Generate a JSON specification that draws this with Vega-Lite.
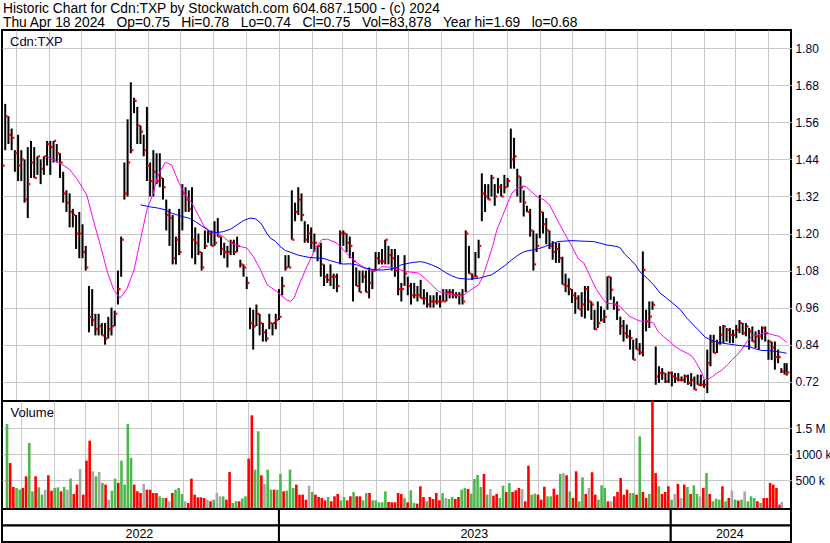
{
  "$schema": "https://vega.github.io/schema/vega-lite/v6.json",
  "padding": 0,
  "spacing": 0,
  "bounds": "flush",
  "background": "white",
  "config": {
    "font": "Liberation Sans",
    "view": {"stroke": "black", "strokeWidth": 2},
    "axis": {"title": null, "ticks": false, "domain": false, "labelFont": "Liberation Sans", "labelFontSize": 12, "labelColor": "#000033", "gridColor": "#C8C8C8", "gridOpacity": 1, "gridWidth": 1, "labelPadding": 4, "labelOverlap": false},
    "title": {"font": "Liberation Sans", "fontSize": 13, "fontWeight": "normal", "anchor": "start", "color": "#000033", "frame": "group"}
  },
  "datasets": {
    "bars": [
      {"d":"2022-04-18","h":1.68,"l":1.41,"c":1.42,"vk":1583,"k":"u"},
      {"d":"2022-04-21","h":1.62,"l":1.47,"c":1.58,"vk":833,"k":"d"},
      {"d":"2022-04-24","h":1.58,"l":1.49,"c":1.52,"vk":372,"k":"d"},
      {"d":"2022-04-27","h":1.54,"l":1.47,"c":1.51,"vk":353,"k":"u"},
      {"d":"2022-04-30","h":1.47,"l":1.40,"c":1.46,"vk":321,"k":"u"},
      {"d":"2022-05-03","h":1.52,"l":1.37,"c":1.42,"vk":353,"k":"d"},
      {"d":"2022-05-06","h":1.47,"l":1.37,"c":1.44,"vk":577,"k":"d"},
      {"d":"2022-05-09","h":1.44,"l":1.30,"c":1.31,"vk":1218,"k":"u"},
      {"d":"2022-05-12","h":1.48,"l":1.25,"c":1.36,"vk":288,"k":"u"},
      {"d":"2022-05-15","h":1.50,"l":1.38,"c":1.43,"vk":577,"k":"d"},
      {"d":"2022-05-18","h":1.48,"l":1.38,"c":1.38,"vk":365,"k":"u"},
      {"d":"2022-05-21","h":1.45,"l":1.39,"c":1.45,"vk":224,"k":"u"},
      {"d":"2022-05-24","h":1.44,"l":1.36,"c":1.41,"vk":320,"k":"n"},
      {"d":"2022-05-27","h":1.45,"l":1.39,"c":1.45,"vk":596,"k":"d"},
      {"d":"2022-05-30","h":1.50,"l":1.42,"c":1.49,"vk":300,"k":"d"},
      {"d":"2022-06-02","h":1.50,"l":1.39,"c":1.48,"vk":353,"k":"u"},
      {"d":"2022-06-05","h":1.50,"l":1.43,"c":1.50,"vk":365,"k":"u"},
      {"d":"2022-06-08","h":1.49,"l":1.43,"c":1.46,"vk":288,"k":"d"},
      {"d":"2022-06-11","h":1.46,"l":1.38,"c":1.43,"vk":372,"k":"u"},
      {"d":"2022-06-14","h":1.40,"l":1.30,"c":1.33,"vk":320,"k":"n"},
      {"d":"2022-06-17","h":1.34,"l":1.27,"c":1.30,"vk":532,"k":"u"},
      {"d":"2022-06-20","h":1.33,"l":1.22,"c":1.27,"vk":237,"k":"d"},
      {"d":"2022-06-23","h":1.28,"l":1.22,"c":1.26,"vk":417,"k":"d"},
      {"d":"2022-06-26","h":1.26,"l":1.15,"c":1.20,"vk":718,"k":"n"},
      {"d":"2022-06-29","h":1.27,"l":1.12,"c":1.20,"vk":224,"k":"d"},
      {"d":"2022-07-02","h":1.23,"l":1.12,"c":1.14,"vk":878,"k":"d"},
      {"d":"2022-07-05","h":1.16,"l":1.08,"c":1.09,"vk":1263,"k":"d"},
      {"d":"2022-07-08","h":1.03,"l":0.88,"c":0.93,"vk":673,"k":"n"},
      {"d":"2022-07-11","h":1.02,"l":0.90,"c":0.92,"vk":577,"k":"u"},
      {"d":"2022-07-14","h":0.94,"l":0.87,"c":0.89,"vk":660,"k":"n"},
      {"d":"2022-07-17","h":0.94,"l":0.87,"c":0.90,"vk":449,"k":"u"},
      {"d":"2022-07-20","h":0.91,"l":0.87,"c":0.87,"vk":417,"k":"d"},
      {"d":"2022-07-23","h":0.91,"l":0.84,"c":0.86,"vk":128,"k":"n"},
      {"d":"2022-07-26","h":0.93,"l":0.86,"c":0.89,"vk":301,"k":"u"},
      {"d":"2022-07-29","h":0.96,"l":0.87,"c":0.90,"vk":532,"k":"u"},
      {"d":"2022-08-01","h":0.95,"l":0.90,"c":0.94,"vk":449,"k":"d"},
      {"d":"2022-08-04","h":1.08,"l":0.97,"c":1.02,"vk":878,"k":"u"},
      {"d":"2022-08-07","h":1.19,"l":1.06,"c":1.18,"vk":417,"k":"u"},
      {"d":"2022-08-10","h":1.43,"l":1.31,"c":1.33,"vk":1583,"k":"u"},
      {"d":"2022-08-13","h":1.57,"l":1.32,"c":1.43,"vk":929,"k":"u"},
      {"d":"2022-08-16","h":1.69,"l":1.46,"c":1.47,"vk":417,"k":"d"},
      {"d":"2022-08-19","h":1.64,"l":1.59,"c":1.63,"vk":288,"k":"d"},
      {"d":"2022-08-22","h":1.61,"l":1.49,"c":1.55,"vk":256,"k":"d"},
      {"d":"2022-08-25","h":1.55,"l":1.49,"c":1.53,"vk":430,"k":"n"},
      {"d":"2022-08-28","h":1.52,"l":1.45,"c":1.47,"vk":320,"k":"d"},
      {"d":"2022-08-31","h":1.61,"l":1.37,"c":1.42,"vk":320,"k":"d"},
      {"d":"2022-09-03","h":1.43,"l":1.32,"c":1.37,"vk":256,"k":"d"},
      {"d":"2022-09-06","h":1.47,"l":1.32,"c":1.40,"vk":256,"k":"d"},
      {"d":"2022-09-09","h":1.46,"l":1.36,"c":1.37,"vk":192,"k":"u"},
      {"d":"2022-09-12","h":1.46,"l":1.35,"c":1.38,"vk":160,"k":"u"},
      {"d":"2022-09-15","h":1.38,"l":1.31,"c":1.35,"vk":160,"k":"d"},
      {"d":"2022-09-18","h":1.31,"l":1.21,"c":1.26,"vk":96,"k":"n"},
      {"d":"2022-09-21","h":1.28,"l":1.16,"c":1.25,"vk":256,"k":"d"},
      {"d":"2022-09-24","h":1.26,"l":1.10,"c":1.12,"vk":320,"k":"u"},
      {"d":"2022-09-27","h":1.19,"l":1.10,"c":1.18,"vk":353,"k":"u"},
      {"d":"2022-09-30","h":1.28,"l":1.13,"c":1.14,"vk":237,"k":"u"},
      {"d":"2022-10-03","h":1.36,"l":1.21,"c":1.33,"vk":96,"k":"n"},
      {"d":"2022-10-06","h":1.35,"l":1.27,"c":1.31,"vk":64,"k":"d"},
      {"d":"2022-10-09","h":1.34,"l":1.27,"c":1.28,"vk":532,"k":"d"},
      {"d":"2022-10-12","h":1.35,"l":1.12,"c":1.18,"vk":224,"k":"d"},
      {"d":"2022-10-15","h":1.22,"l":1.10,"c":1.17,"vk":173,"k":"d"},
      {"d":"2022-10-18","h":1.20,"l":1.13,"c":1.14,"vk":173,"k":"d"},
      {"d":"2022-10-21","h":1.14,"l":1.08,"c":1.09,"vk":160,"k":"d"},
      {"d":"2022-10-24","h":1.21,"l":1.15,"c":1.16,"vk":128,"k":"n"},
      {"d":"2022-10-27","h":1.21,"l":1.17,"c":1.20,"vk":96,"k":"d"},
      {"d":"2022-10-30","h":1.21,"l":1.16,"c":1.16,"vk":128,"k":"u"},
      {"d":"2022-11-02","h":1.24,"l":1.16,"c":1.17,"vk":256,"k":"n"},
      {"d":"2022-11-05","h":1.25,"l":1.19,"c":1.19,"vk":192,"k":"n"},
      {"d":"2022-11-08","h":1.19,"l":1.13,"c":1.15,"vk":192,"k":"u"},
      {"d":"2022-11-11","h":1.17,"l":1.12,"c":1.14,"vk":128,"k":"d"},
      {"d":"2022-11-14","h":1.16,"l":1.09,"c":1.14,"vk":660,"k":"d"},
      {"d":"2022-11-17","h":1.18,"l":1.13,"c":1.17,"vk":64,"k":"u"},
      {"d":"2022-11-20","h":1.18,"l":1.13,"c":1.14,"vk":96,"k":"u"},
      {"d":"2022-11-23","h":1.19,"l":1.14,"c":1.16,"vk":96,"k":"d"},
      {"d":"2022-11-26","h":1.115,"l":1.09,"c":1.10,"vk":150,"k":"u"},
      {"d":"2022-11-29","h":1.10,"l":1.06,"c":1.09,"vk":192,"k":"u"},
      {"d":"2022-12-02","h":1.06,"l":1.02,"c":1.04,"vk":917,"k":"d"},
      {"d":"2022-12-05","h":0.96,"l":0.89,"c":0.91,"vk":1750,"k":"d"},
      {"d":"2022-12-08","h":0.953,"l":0.824,"c":0.899,"vk":705,"k":"u"},
      {"d":"2022-12-11","h":0.97,"l":0.90,"c":0.94,"vk":1442,"k":"u"},
      {"d":"2022-12-14","h":0.94,"l":0.87,"c":0.91,"vk":596,"k":"d"},
      {"d":"2022-12-17","h":0.91,"l":0.85,"c":0.88,"vk":430,"k":"n"},
      {"d":"2022-12-20","h":0.89,"l":0.85,"c":0.86,"vk":705,"k":"u"},
      {"d":"2022-12-23","h":0.94,"l":0.89,"c":0.91,"vk":320,"k":"u"},
      {"d":"2022-12-26","h":0.91,"l":0.87,"c":0.91,"vk":320,"k":"d"},
      {"d":"2022-12-29","h":0.94,"l":0.89,"c":0.92,"vk":320,"k":"u"},
      {"d":"2023-01-01","h":1.02,"l":0.92,"c":0.93,"vk":622,"k":"u"},
      {"d":"2023-01-04","h":1.06,"l":1.00,"c":1.03,"vk":288,"k":"d"},
      {"d":"2023-01-07","h":1.13,"l":1.08,"c":1.09,"vk":301,"k":"u"},
      {"d":"2023-01-10","h":1.13,"l":1.09,"c":1.09,"vk":705,"k":"u"},
      {"d":"2023-01-13","h":1.34,"l":1.18,"c":1.18,"vk":353,"k":"u"},
      {"d":"2023-01-16","h":1.30,"l":1.24,"c":1.27,"vk":417,"k":"d"},
      {"d":"2023-01-19","h":1.35,"l":1.26,"c":1.31,"vk":224,"k":"d"},
      {"d":"2023-01-22","h":1.33,"l":1.24,"c":1.26,"vk":224,"k":"d"},
      {"d":"2023-01-25","h":1.24,"l":1.17,"c":1.18,"vk":128,"k":"d"},
      {"d":"2023-01-28","h":1.23,"l":1.17,"c":1.20,"vk":397,"k":"n"},
      {"d":"2023-01-31","h":1.22,"l":1.15,"c":1.17,"vk":276,"k":"u"},
      {"d":"2023-02-03","h":1.20,"l":1.14,"c":1.17,"vk":224,"k":"d"},
      {"d":"2023-02-06","h":1.16,"l":1.11,"c":1.16,"vk":179,"k":"d"},
      {"d":"2023-02-09","h":1.17,"l":1.06,"c":1.10,"vk":160,"k":"d"},
      {"d":"2023-02-12","h":1.10,"l":1.03,"c":1.06,"vk":115,"k":"d"},
      {"d":"2023-02-15","h":1.07,"l":1.04,"c":1.05,"vk":179,"k":"u"},
      {"d":"2023-02-18","h":1.10,"l":1.03,"c":1.06,"vk":96,"k":"d"},
      {"d":"2023-02-21","h":1.07,"l":1.02,"c":1.06,"vk":192,"k":"d"},
      {"d":"2023-02-24","h":1.07,"l":1.01,"c":1.03,"vk":237,"k":"d"},
      {"d":"2023-02-27","h":1.21,"l":1.10,"c":1.20,"vk":115,"k":"u"},
      {"d":"2023-03-02","h":1.21,"l":1.16,"c":1.20,"vk":179,"k":"u"},
      {"d":"2023-03-05","h":1.20,"l":1.14,"c":1.17,"vk":115,"k":"d"},
      {"d":"2023-03-08","h":1.19,"l":1.12,"c":1.16,"vk":192,"k":"d"},
      {"d":"2023-03-11","h":1.14,"l":0.98,"c":1.11,"vk":276,"k":"u"},
      {"d":"2023-03-14","h":1.09,"l":1.03,"c":1.03,"vk":192,"k":"d"},
      {"d":"2023-03-17","h":1.08,"l":1.01,"c":1.01,"vk":192,"k":"d"},
      {"d":"2023-03-20","h":1.08,"l":1.04,"c":1.06,"vk":115,"k":"u"},
      {"d":"2023-03-23","h":1.08,"l":1.01,"c":1.01,"vk":256,"k":"u"},
      {"d":"2023-03-26","h":1.09,"l":0.99,"c":1.04,"vk":256,"k":"d"},
      {"d":"2023-03-29","h":1.08,"l":1.02,"c":1.08,"vk":115,"k":"u"},
      {"d":"2023-04-01","h":1.14,"l":1.08,"c":1.12,"vk":115,"k":"u"},
      {"d":"2023-04-04","h":1.14,"l":1.10,"c":1.11,"vk":77,"k":"u"},
      {"d":"2023-04-07","h":1.15,"l":1.10,"c":1.11,"vk":77,"k":"u"},
      {"d":"2023-04-10","h":1.18,"l":1.10,"c":1.18,"vk":288,"k":"u"},
      {"d":"2023-04-13","h":1.16,"l":1.10,"c":1.13,"vk":83,"k":"d"},
      {"d":"2023-04-16","h":1.15,"l":1.08,"c":1.12,"vk":77,"k":"d"},
      {"d":"2023-04-19","h":1.15,"l":1.06,"c":1.08,"vk":77,"k":"d"},
      {"d":"2023-04-22","h":1.13,"l":1.00,"c":1.02,"vk":256,"k":"d"},
      {"d":"2023-04-25","h":1.04,"l":0.98,"c":1.02,"vk":237,"k":"d"},
      {"d":"2023-04-28","h":1.13,"l":1.03,"c":1.07,"vk":160,"k":"u"},
      {"d":"2023-05-01","h":1.06,"l":1.00,"c":1.03,"vk":77,"k":"d"},
      {"d":"2023-05-04","h":1.04,"l":0.97,"c":1.00,"vk":308,"k":"u"},
      {"d":"2023-05-07","h":1.04,"l":0.99,"c":1.00,"vk":64,"k":"u"},
      {"d":"2023-05-10","h":1.03,"l":0.98,"c":1.00,"vk":51,"k":"d"},
      {"d":"2023-05-13","h":1.05,"l":0.99,"c":0.99,"vk":385,"k":"d"},
      {"d":"2023-05-16","h":1.02,"l":0.97,"c":0.99,"vk":179,"k":"d"},
      {"d":"2023-05-19","h":1.01,"l":0.96,"c":0.97,"vk":96,"k":"u"},
      {"d":"2023-05-22","h":1.00,"l":0.96,"c":0.98,"vk":179,"k":"d"},
      {"d":"2023-05-25","h":1.00,"l":0.96,"c":0.98,"vk":141,"k":"d"},
      {"d":"2023-05-28","h":1.01,"l":0.97,"c":0.98,"vk":256,"k":"d"},
      {"d":"2023-05-31","h":1.00,"l":0.96,"c":0.98,"vk":115,"k":"d"},
      {"d":"2023-06-03","h":1.02,"l":0.98,"c":0.98,"vk":256,"k":"u"},
      {"d":"2023-06-06","h":1.02,"l":0.98,"c":1.01,"vk":160,"k":"n"},
      {"d":"2023-06-09","h":1.02,"l":0.99,"c":1.01,"vk":141,"k":"u"},
      {"d":"2023-06-12","h":1.02,"l":0.99,"c":1.00,"vk":179,"k":"u"},
      {"d":"2023-06-15","h":1.01,"l":0.99,"c":1.00,"vk":141,"k":"d"},
      {"d":"2023-06-18","h":1.01,"l":0.97,"c":1.00,"vk":179,"k":"d"},
      {"d":"2023-06-21","h":1.02,"l":0.97,"c":0.98,"vk":320,"k":"u"},
      {"d":"2023-06-24","h":1.21,"l":1.01,"c":1.20,"vk":353,"k":"u"},
      {"d":"2023-06-27","h":1.16,"l":1.07,"c":1.07,"vk":333,"k":"d"},
      {"d":"2023-06-30","h":1.07,"l":1.05,"c":1.06,"vk":244,"k":"u"},
      {"d":"2023-07-03","h":1.14,"l":1.06,"c":1.06,"vk":526,"k":"u"},
      {"d":"2023-07-06","h":1.18,"l":1.12,"c":1.16,"vk":603,"k":"u"},
      {"d":"2023-07-09","h":1.395,"l":1.24,"c":1.33,"vk":372,"k":"u"},
      {"d":"2023-07-12","h":1.36,"l":1.27,"c":1.32,"vk":622,"k":"d"},
      {"d":"2023-07-15","h":1.36,"l":1.31,"c":1.31,"vk":224,"k":"u"},
      {"d":"2023-07-18","h":1.39,"l":1.32,"c":1.38,"vk":333,"k":"n"},
      {"d":"2023-07-21","h":1.36,"l":1.29,"c":1.32,"vk":205,"k":"d"},
      {"d":"2023-07-24","h":1.38,"l":1.33,"c":1.35,"vk":237,"k":"d"},
      {"d":"2023-07-27","h":1.36,"l":1.32,"c":1.32,"vk":160,"k":"u"},
      {"d":"2023-07-30","h":1.39,"l":1.33,"c":1.35,"vk":397,"k":"u"},
      {"d":"2023-08-02","h":1.38,"l":1.35,"c":1.37,"vk":276,"k":"d"},
      {"d":"2023-08-05","h":1.54,"l":1.41,"c":1.44,"vk":449,"k":"u"},
      {"d":"2023-08-08","h":1.51,"l":1.41,"c":1.45,"vk":276,"k":"d"},
      {"d":"2023-08-11","h":1.41,"l":1.32,"c":1.385,"vk":308,"k":"d"},
      {"d":"2023-08-14","h":1.385,"l":1.30,"c":1.35,"vk":353,"k":"d"},
      {"d":"2023-08-17","h":1.34,"l":1.255,"c":1.30,"vk":333,"k":"n"},
      {"d":"2023-08-20","h":1.29,"l":1.27,"c":1.27,"vk":96,"k":"d"},
      {"d":"2023-08-23","h":1.28,"l":1.19,"c":1.21,"vk":782,"k":"d"},
      {"d":"2023-08-26","h":1.21,"l":1.08,"c":1.10,"vk":224,"k":"u"},
      {"d":"2023-08-29","h":1.20,"l":1.14,"c":1.16,"vk":244,"k":"u"},
      {"d":"2023-09-01","h":1.325,"l":1.185,"c":1.27,"vk":224,"k":"d"},
      {"d":"2023-09-04","h":1.27,"l":1.20,"c":1.23,"vk":128,"k":"d"},
      {"d":"2023-09-07","h":1.25,"l":1.165,"c":1.21,"vk":378,"k":"d"},
      {"d":"2023-09-10","h":1.21,"l":1.15,"c":1.16,"vk":192,"k":"u"},
      {"d":"2023-09-13","h":1.175,"l":1.115,"c":1.14,"vk":192,"k":"u"},
      {"d":"2023-09-16","h":1.17,"l":1.105,"c":1.15,"vk":340,"k":"d"},
      {"d":"2023-09-19","h":1.17,"l":1.105,"c":1.12,"vk":224,"k":"d"},
      {"d":"2023-09-22","h":1.125,"l":1.035,"c":1.035,"vk":622,"k":"u"},
      {"d":"2023-09-25","h":1.07,"l":1.01,"c":1.03,"vk":641,"k":"n"},
      {"d":"2023-09-28","h":1.055,"l":1.00,"c":1.02,"vk":596,"k":"d"},
      {"d":"2023-10-01","h":1.02,"l":0.975,"c":1.00,"vk":288,"k":"u"},
      {"d":"2023-10-04","h":1.01,"l":0.94,"c":0.99,"vk":160,"k":"d"},
      {"d":"2023-10-07","h":1.00,"l":0.955,"c":0.955,"vk":673,"k":"d"},
      {"d":"2023-10-10","h":1.01,"l":0.93,"c":0.97,"vk":96,"k":"u"},
      {"d":"2023-10-13","h":1.03,"l":0.925,"c":1.02,"vk":558,"k":"u"},
      {"d":"2023-10-16","h":1.03,"l":0.95,"c":0.98,"vk":237,"k":"d"},
      {"d":"2023-10-19","h":0.98,"l":0.92,"c":0.97,"vk":353,"k":"n"},
      {"d":"2023-10-22","h":0.953,"l":0.888,"c":0.89,"vk":654,"k":"d"},
      {"d":"2023-10-25","h":0.98,"l":0.894,"c":0.91,"vk":224,"k":"d"},
      {"d":"2023-10-28","h":0.964,"l":0.915,"c":0.92,"vk":128,"k":"u"},
      {"d":"2023-10-31","h":0.953,"l":0.91,"c":0.93,"vk":404,"k":"u"},
      {"d":"2023-11-03","h":1.061,"l":0.953,"c":1.06,"vk":353,"k":"u"},
      {"d":"2023-11-06","h":1.06,"l":0.985,"c":1.018,"vk":96,"k":"d"},
      {"d":"2023-11-09","h":0.996,"l":0.953,"c":0.97,"vk":96,"k":"n"},
      {"d":"2023-11-12","h":0.98,"l":0.92,"c":0.953,"vk":192,"k":"d"},
      {"d":"2023-11-15","h":0.931,"l":0.872,"c":0.90,"vk":276,"k":"d"},
      {"d":"2023-11-18","h":0.92,"l":0.85,"c":0.877,"vk":545,"k":"d"},
      {"d":"2023-11-21","h":0.905,"l":0.86,"c":0.867,"vk":224,"k":"d"},
      {"d":"2023-11-24","h":0.888,"l":0.824,"c":0.861,"vk":320,"k":"d"},
      {"d":"2023-11-27","h":0.856,"l":0.791,"c":0.791,"vk":256,"k":"u"},
      {"d":"2023-11-30","h":0.861,"l":0.824,"c":0.824,"vk":256,"k":"u"},
      {"d":"2023-12-03","h":0.845,"l":0.807,"c":0.815,"vk":224,"k":"d"},
      {"d":"2023-12-06","h":1.142,"l":0.802,"c":1.082,"vk":1346,"k":"u"},
      {"d":"2023-12-09","h":0.953,"l":0.883,"c":0.915,"vk":276,"k":"d"},
      {"d":"2023-12-12","h":0.98,"l":0.894,"c":0.931,"vk":160,"k":"d"},
      {"d":"2023-12-15","h":0.98,"l":0.953,"c":0.969,"vk":237,"k":"u"},
      {"d":"2023-12-18","h":0.834,"l":0.71,"c":0.737,"vk":2032,"k":"d"},
      {"d":"2023-12-21","h":0.77,"l":0.716,"c":0.748,"vk":641,"k":"d"},
      {"d":"2023-12-24","h":0.764,"l":0.726,"c":0.748,"vk":385,"k":"u"},
      {"d":"2023-12-27","h":0.748,"l":0.716,"c":0.721,"vk":237,"k":"d"},
      {"d":"2023-12-30","h":0.753,"l":0.716,"c":0.748,"vk":276,"k":"d"},
      {"d":"2024-01-02","h":0.753,"l":0.705,"c":0.737,"vk":385,"k":"d"},
      {"d":"2024-01-05","h":0.748,"l":0.716,"c":0.73,"vk":128,"k":"u"},
      {"d":"2024-01-08","h":0.748,"l":0.721,"c":0.726,"vk":237,"k":"n"},
      {"d":"2024-01-11","h":0.737,"l":0.721,"c":0.726,"vk":430,"k":"d"},
      {"d":"2024-01-14","h":0.743,"l":0.716,"c":0.737,"vk":160,"k":"n"},
      {"d":"2024-01-17","h":0.743,"l":0.71,"c":0.716,"vk":417,"k":"d"},
      {"d":"2024-01-20","h":0.748,"l":0.705,"c":0.726,"vk":372,"k":"u"},
      {"d":"2024-01-23","h":0.737,"l":0.694,"c":0.694,"vk":237,"k":"d"},
      {"d":"2024-01-26","h":0.743,"l":0.71,"c":0.71,"vk":404,"k":"u"},
      {"d":"2024-01-29","h":0.743,"l":0.705,"c":0.71,"vk":237,"k":"u"},
      {"d":"2024-02-01","h":0.726,"l":0.70,"c":0.71,"vk":192,"k":"n"},
      {"d":"2024-02-04","h":0.824,"l":0.683,"c":0.78,"vk":353,"k":"d"},
      {"d":"2024-02-07","h":0.872,"l":0.77,"c":0.85,"vk":641,"k":"u"},
      {"d":"2024-02-10","h":0.872,"l":0.813,"c":0.813,"vk":237,"k":"d"},
      {"d":"2024-02-13","h":0.856,"l":0.813,"c":0.845,"vk":96,"k":"u"},
      {"d":"2024-02-16","h":0.90,"l":0.84,"c":0.872,"vk":147,"k":"u"},
      {"d":"2024-02-19","h":0.904,"l":0.845,"c":0.899,"vk":128,"k":"u"},
      {"d":"2024-02-22","h":0.894,"l":0.85,"c":0.888,"vk":385,"k":"d"},
      {"d":"2024-02-25","h":0.894,"l":0.845,"c":0.872,"vk":96,"k":"u"},
      {"d":"2024-02-28","h":0.888,"l":0.845,"c":0.872,"vk":160,"k":"d"},
      {"d":"2024-03-02","h":0.904,"l":0.861,"c":0.888,"vk":301,"k":"n"},
      {"d":"2024-03-05","h":0.92,"l":0.877,"c":0.91,"vk":128,"k":"u"},
      {"d":"2024-03-08","h":0.91,"l":0.872,"c":0.877,"vk":109,"k":"d"},
      {"d":"2024-03-11","h":0.91,"l":0.867,"c":0.899,"vk":128,"k":"u"},
      {"d":"2024-03-14","h":0.894,"l":0.824,"c":0.883,"vk":288,"k":"n"},
      {"d":"2024-03-17","h":0.899,"l":0.85,"c":0.85,"vk":96,"k":"u"},
      {"d":"2024-03-20","h":0.883,"l":0.829,"c":0.867,"vk":192,"k":"u"},
      {"d":"2024-03-23","h":0.888,"l":0.824,"c":0.867,"vk":160,"k":"u"},
      {"d":"2024-03-26","h":0.899,"l":0.856,"c":0.894,"vk":96,"k":"d"},
      {"d":"2024-03-29","h":0.899,"l":0.85,"c":0.877,"vk":64,"k":"u"},
      {"d":"2024-04-01","h":0.856,"l":0.791,"c":0.85,"vk":160,"k":"d"},
      {"d":"2024-04-04","h":0.85,"l":0.79,"c":0.83,"vk":160,"k":"d"},
      {"d":"2024-04-07","h":0.85,"l":0.759,"c":0.80,"vk":449,"k":"d"},
      {"d":"2024-04-10","h":0.824,"l":0.78,"c":0.80,"vk":417,"k":"d"},
      {"d":"2024-04-13","h":0.764,"l":0.748,"c":0.753,"vk":353,"k":"d"},
      {"d":"2024-04-16","h":0.78,"l":0.743,"c":0.748,"vk":32,"k":"d"},
      {"d":"2024-04-18","h":0.78,"l":0.74,"c":0.75,"vk":84,"k":"n"}
    ],
    "ma_fast": [
      {"d":"2022-05-30","p":1.449},{"d":"2022-06-10","p":1.430},{"d":"2022-06-20","p":1.408},{"d":"2022-06-27","p":1.376},
      {"d":"2022-07-06","p":1.325},{"d":"2022-07-12","p":1.244},{"d":"2022-07-19","p":1.158},{"d":"2022-07-25","p":1.077},
      {"d":"2022-07-31","p":1.018},{"d":"2022-08-06","p":0.991},{"d":"2022-08-12","p":1.018},{"d":"2022-08-19","p":1.082},
      {"d":"2022-08-25","p":1.180},{"d":"2022-08-31","p":1.277},{"d":"2022-09-06","p":1.331},{"d":"2022-09-10","p":1.385},
      {"d":"2022-09-17","p":1.431},{"d":"2022-09-23","p":1.422},{"d":"2022-09-30","p":1.363},{"d":"2022-10-06","p":1.325},
      {"d":"2022-10-12","p":1.298},{"d":"2022-10-17","p":1.265},{"d":"2022-10-23","p":1.225},{"d":"2022-10-29","p":1.206},
      {"d":"2022-11-04","p":1.201},{"d":"2022-11-10","p":1.190},{"d":"2022-11-17","p":1.169},{"d":"2022-11-26","p":1.158},
      {"d":"2022-12-02","p":1.153},{"d":"2022-12-08","p":1.126},{"d":"2022-12-15","p":1.082},{"d":"2022-12-21","p":1.034},
      {"d":"2022-12-30","p":1.012},{"d":"2023-01-08","p":0.985},{"d":"2023-01-12","p":0.980},{"d":"2023-01-15","p":0.991},
      {"d":"2023-01-21","p":1.045},{"d":"2023-01-27","p":1.093},{"d":"2023-02-05","p":1.158},{"d":"2023-02-10","p":1.180},
      {"d":"2023-02-15","p":1.182},{"d":"2023-02-24","p":1.169},{"d":"2023-03-05","p":1.136},{"d":"2023-03-15","p":1.104},
      {"d":"2023-03-24","p":1.085},{"d":"2023-04-01","p":1.077},{"d":"2023-04-07","p":1.093},{"d":"2023-04-15","p":1.091},
      {"d":"2023-04-22","p":1.085},{"d":"2023-04-29","p":1.077},{"d":"2023-05-11","p":1.072},{"d":"2023-05-17","p":1.055},
      {"d":"2023-05-23","p":1.034},{"d":"2023-05-30","p":1.012},{"d":"2023-06-10","p":1.002},{"d":"2023-06-21","p":0.998},
      {"d":"2023-06-29","p":1.018},{"d":"2023-07-06","p":1.034},{"d":"2023-07-10","p":1.061},{"d":"2023-07-14","p":1.104},
      {"d":"2023-07-19","p":1.158},{"d":"2023-07-23","p":1.212},{"d":"2023-07-28","p":1.255},{"d":"2023-08-02","p":1.298},
      {"d":"2023-08-06","p":1.331},{"d":"2023-08-11","p":1.347},{"d":"2023-08-16","p":1.354},{"d":"2023-08-19","p":1.352},
      {"d":"2023-08-24","p":1.336},{"d":"2023-08-30","p":1.318},{"d":"2023-09-05","p":1.309},{"d":"2023-09-10","p":1.293},
      {"d":"2023-09-14","p":1.266},{"d":"2023-09-19","p":1.233},{"d":"2023-09-24","p":1.201},{"d":"2023-10-01","p":1.158},
      {"d":"2023-10-07","p":1.117},{"d":"2023-10-12","p":1.105},{"d":"2023-10-16","p":1.075},{"d":"2023-10-19","p":1.052},
      {"d":"2023-10-24","p":1.018},{"d":"2023-10-29","p":0.991},{"d":"2023-11-02","p":0.974},{"d":"2023-11-09","p":0.972},
      {"d":"2023-11-15","p":0.964},{"d":"2023-11-19","p":0.947},{"d":"2023-11-24","p":0.931},{"d":"2023-11-30","p":0.921},
      {"d":"2023-12-05","p":0.915},{"d":"2023-12-10","p":0.917},{"d":"2023-12-16","p":0.910},{"d":"2023-12-20","p":0.883},
      {"d":"2023-12-25","p":0.867},{"d":"2023-12-31","p":0.850},{"d":"2024-01-05","p":0.834},{"d":"2024-01-10","p":0.823},
      {"d":"2024-01-16","p":0.813},{"d":"2024-01-21","p":0.802},{"d":"2024-01-25","p":0.780},{"d":"2024-01-30","p":0.748},
      {"d":"2024-02-01","p":0.728},{"d":"2024-02-04","p":0.726},{"d":"2024-02-09","p":0.737},{"d":"2024-02-13","p":0.748},
      {"d":"2024-02-18","p":0.759},{"d":"2024-02-23","p":0.775},{"d":"2024-02-27","p":0.791},{"d":"2024-03-03","p":0.807},
      {"d":"2024-03-08","p":0.829},{"d":"2024-03-12","p":0.850},{"d":"2024-03-17","p":0.869},{"d":"2024-03-23","p":0.872},
      {"d":"2024-03-29","p":0.880},{"d":"2024-04-05","p":0.872},{"d":"2024-04-11","p":0.867},{"d":"2024-04-15","p":0.856},
      {"d":"2024-04-18","p":0.847}
    ],
    "ma_slow": [
      {"d":"2022-08-25","p":1.293},{"d":"2022-09-02","p":1.287},{"d":"2022-09-11","p":1.282},{"d":"2022-09-17","p":1.277},
      {"d":"2022-09-23","p":1.266},{"d":"2022-10-03","p":1.255},{"d":"2022-10-09","p":1.250},{"d":"2022-10-15","p":1.239},
      {"d":"2022-10-21","p":1.225},{"d":"2022-10-29","p":1.206},{"d":"2022-11-04","p":1.203},{"d":"2022-11-10","p":1.206},
      {"d":"2022-11-17","p":1.214},{"d":"2022-11-23","p":1.228},{"d":"2022-11-29","p":1.242},{"d":"2022-12-05","p":1.250},
      {"d":"2022-12-10","p":1.248},{"d":"2022-12-15","p":1.234},{"d":"2022-12-18","p":1.217},{"d":"2022-12-21","p":1.199},
      {"d":"2022-12-24","p":1.185},{"d":"2022-12-29","p":1.174},{"d":"2023-01-02","p":1.158},{"d":"2023-01-07","p":1.145},
      {"d":"2023-01-12","p":1.139},{"d":"2023-01-18","p":1.131},{"d":"2023-01-24","p":1.126},{"d":"2023-01-30","p":1.122},
      {"d":"2023-02-05","p":1.121},{"d":"2023-02-12","p":1.119},{"d":"2023-02-18","p":1.112},{"d":"2023-02-24","p":1.106},
      {"d":"2023-03-02","p":1.101},{"d":"2023-03-08","p":1.102},{"d":"2023-03-15","p":1.098},{"d":"2023-03-21","p":1.089},
      {"d":"2023-03-27","p":1.085},{"d":"2023-04-02","p":1.082},{"d":"2023-04-08","p":1.082},{"d":"2023-04-15","p":1.085},
      {"d":"2023-04-21","p":1.090},{"d":"2023-04-25","p":1.099},{"d":"2023-05-05","p":1.106},{"d":"2023-05-13","p":1.109},
      {"d":"2023-05-17","p":1.106},{"d":"2023-05-23","p":1.099},{"d":"2023-05-30","p":1.088},{"d":"2023-06-05","p":1.074},
      {"d":"2023-06-11","p":1.063},{"d":"2023-06-17","p":1.055},{"d":"2023-06-27","p":1.052},{"d":"2023-07-06","p":1.055},
      {"d":"2023-07-12","p":1.061},{"d":"2023-07-18","p":1.066},{"d":"2023-07-24","p":1.080},{"d":"2023-07-31","p":1.098},
      {"d":"2023-08-06","p":1.115},{"d":"2023-08-12","p":1.131},{"d":"2023-08-18","p":1.142},{"d":"2023-08-25","p":1.147},
      {"d":"2023-08-31","p":1.151},{"d":"2023-09-06","p":1.158},{"d":"2023-09-12","p":1.167},{"d":"2023-09-18","p":1.174},
      {"d":"2023-10-01","p":1.177},{"d":"2023-10-13","p":1.175},{"d":"2023-10-21","p":1.174},{"d":"2023-10-27","p":1.169},
      {"d":"2023-11-02","p":1.163},{"d":"2023-11-12","p":1.158},{"d":"2023-11-15","p":1.153},{"d":"2023-11-19","p":1.134},
      {"d":"2023-11-24","p":1.117},{"d":"2023-11-29","p":1.099},{"d":"2023-12-03","p":1.077},{"d":"2023-12-10","p":1.055},
      {"d":"2023-12-16","p":1.034},{"d":"2023-12-22","p":1.007},{"d":"2023-12-28","p":0.991},{"d":"2024-01-03","p":0.974},
      {"d":"2024-01-10","p":0.953},{"d":"2024-01-16","p":0.926},{"d":"2024-01-22","p":0.904},{"d":"2024-01-28","p":0.883},
      {"d":"2024-02-02","p":0.864},{"d":"2024-02-07","p":0.856},{"d":"2024-02-12","p":0.850},{"d":"2024-02-18","p":0.845},
      {"d":"2024-02-24","p":0.842},{"d":"2024-03-01","p":0.839},{"d":"2024-03-08","p":0.836},{"d":"2024-03-14","p":0.834},
      {"d":"2024-03-20","p":0.826},{"d":"2024-03-26","p":0.821},{"d":"2024-04-01","p":0.821},{"d":"2024-04-08","p":0.818},
      {"d":"2024-04-14","p":0.815},{"d":"2024-04-18","p":0.812}
    ],
    "years": [
      {"yr":"2022","row":"m","s":"2022-04-18","e":"2023-01-01","m":"2022-08-24"},
      {"yr":"2022","row":"y","s":"2022-04-18","e":"2023-01-01","m":"2022-08-24"},
      {"yr":"2023","row":"m","s":"2023-01-01","e":"2024-01-01","m":"2023-07-02"},
      {"yr":"2023","row":"y","s":"2023-01-01","e":"2024-01-01","m":"2023-07-02"},
      {"yr":"2024","row":"m","s":"2024-01-01","e":"2024-04-22","m":"2024-02-25"},
      {"yr":"2024","row":"y","s":"2024-01-01","e":"2024-04-22","m":"2024-02-25"}
    ]
  },
  "vconcat": [
    {
      "width": 828,
      "height": 30,
      "data": {"values": [{}]},
      "mark": {"type": "rect", "fill": "white"},
      "encoding": {},
      "title": {
        "text": ["Historic Chart for Cdn:TXP by Stockwatch.com 604.687.1500 - (c) 2024", "Thu Apr 18 2024 \u00a0\u00a0Op=0.75 \u00a0\u00a0Hi=0.78 \u00a0\u00a0Lo=0.74 \u00a0\u00a0Cl=0.75 \u00a0\u00a0Vol=83,878 \u00a0\u00a0Year hi=1.69 \u00a0\u00a0lo=0.68"],
        "color": "black",
        "fontSize": 13.8,
        "lineHeight": 14,
        "offset": -29.5,
        "dx": 1
      }
    },
    {
      "width": 789,
      "height": 371,
      "title": {"text": "Cdn:TXP", "offset": -19, "dx": 8},
      "encoding": {
        "x": {
          "field": "d", "type": "temporal",
          "scale": {"type": "utc", "domain": [{"year": 2022, "month": 4, "date": 18, "utc": true}, {"year": 2024, "month": 4, "date": 22, "utc": true}]},
          "axis": {"labels": false, "grid": true, "minExtent": 0, "maxExtent": 0, "tickCount": {"interval": "month", "step": 1}}
        }
      },
      "layer": [
        {
          "data": {"name": "bars"},
          "mark": {"type": "rule", "color": "black", "strokeWidth": 2},
          "encoding": {
            "y": {
              "field": "l", "type": "quantitative",
              "scale": {"domain": [0.6575, 1.8593], "nice": false, "zero": false},
              "axis": {"orient": "right", "grid": true, "format": ".2f", "values": [0.72, 0.78, 0.84, 0.90, 0.96, 1.02, 1.08, 1.14, 1.20, 1.26, 1.32, 1.38, 1.44, 1.50, 1.56, 1.62, 1.68, 1.74, 1.80], "minExtent": 41, "maxExtent": 41}
            },
            "y2": {"field": "h"}
          }
        },
        {
          "data": {"name": "bars"},
          "mark": {"type": "square", "color": "#FF0000", "size": 5, "opacity": 1, "xOffset": 1.5},
          "encoding": {
            "y": {"field": "c", "type": "quantitative", "scale": {"domain": [0.6575, 1.8593], "nice": false, "zero": false}}
          }
        },
        {
          "data": {"name": "ma_fast"},
          "mark": {"type": "line", "color": "#FF00FF", "strokeWidth": 1},
          "encoding": {
            "y": {"field": "p", "type": "quantitative", "scale": {"domain": [0.6575, 1.8593], "nice": false, "zero": false}}
          }
        },
        {
          "data": {"name": "ma_slow"},
          "mark": {"type": "line", "color": "#0000FF", "strokeWidth": 1},
          "encoding": {
            "y": {"field": "p", "type": "quantitative", "scale": {"domain": [0.6575, 1.8593], "nice": false, "zero": false}}
          }
        }
      ]
    },
    {
      "width": 789,
      "height": 108,
      "title": {"text": "Volume", "offset": -19, "dx": 8.5},
      "data": {"name": "bars"},
      "mark": {"type": "bar", "size": 2.6, "clip": true},
      "encoding": {
        "x": {
          "field": "d", "type": "temporal",
          "scale": {"type": "utc", "domain": [{"year": 2022, "month": 4, "date": 18, "utc": true}, {"year": 2024, "month": 4, "date": 22, "utc": true}]},
          "axis": {"labels": false, "grid": true, "minExtent": 0, "maxExtent": 0, "tickCount": {"interval": "month", "step": 1}}
        },
        "y": {
          "field": "vk", "type": "quantitative",
          "scale": {"domain": [-52, 2025], "nice": false, "zero": false},
          "axis": {"orient": "right", "grid": true, "values": [500, 1000, 1500], "labelExpr": "datum.value == 1500 ? '1.5 M' : datum.value + ' k'", "minExtent": 41, "maxExtent": 41}
        },
        "y2": {"datum": -52},
        "color": {"field": "k", "type": "nominal", "scale": {"domain": ["u", "d", "n"], "range": ["#4CB84C", "#FF0000", "#A8A8A8"]}, "legend": null}
      }
    },
    {
      "width": 789,
      "height": 33,
      "view": {"stroke": null},
      "data": {"name": "years"},
      "encoding": {
        "y": {"field": "row", "type": "nominal", "scale": {"domain": ["m", "y"], "paddingInner": 0, "paddingOuter": 0}, "axis": null}
      },
      "layer": [
        {
          "mark": {"type": "rect", "fill": "white", "stroke": "black", "strokeWidth": 2},
          "encoding": {
            "x": {"field": "s", "type": "temporal", "scale": {"type": "utc", "domain": [{"year": 2022, "month": 4, "date": 18, "utc": true}, {"year": 2024, "month": 4, "date": 22, "utc": true}]}, "axis": null},
            "x2": {"field": "e"}
          }
        },
        {
          "transform": [{"filter": "datum.row == 'y'"}],
          "mark": {"type": "text", "fontSize": 12.5, "font": "Liberation Sans", "color": "black"},
          "encoding": {
            "x": {"field": "m", "type": "temporal"},
            "text": {"field": "yr"}
          }
        }
      ]
    }
  ]
}
